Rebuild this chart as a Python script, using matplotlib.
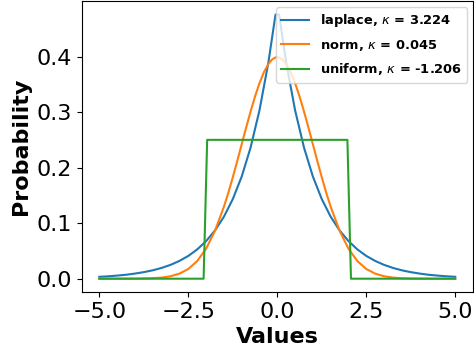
import matplotlib
matplotlib.use("Agg")
import matplotlib.pyplot as plt

# values
x_laplace = [-5.0, -4.75, -4.5, -4.25, -4.0, -3.75, -3.5, -3.25, -3.0, -2.75,
             -2.5, -2.25, -2.0, -1.75, -1.5, -1.25, -1.0, -0.75, -0.5, -0.25,
             -0.05, 0.05,
             0.25, 0.5, 0.75, 1.0, 1.25, 1.5, 1.75, 2.0, 2.25, 2.5,
             2.75, 3.0, 3.25, 3.5, 3.75, 4.0, 4.25, 4.5, 4.75, 5.0]
laplace_half = [0.0034, 0.0043, 0.0056, 0.0071, 0.0092, 0.0118, 0.0151, 0.0194,
                0.0249, 0.0320, 0.0410, 0.0527, 0.0677, 0.0869, 0.1116, 0.1433,
                0.1839, 0.2362, 0.3033, 0.3894, 0.4755]
laplace_vals = laplace_half + laplace_half[::-1]

x_norm = [-5.0, -4.5, -4.0, -3.75, -3.5, -3.25, -3.0, -2.75, -2.5, -2.25,
          -2.0, -1.75, -1.5, -1.375, -1.25, -1.125, -1.0, -0.875, -0.75, -0.625,
          -0.5, -0.375, -0.25, -0.15, -0.05,
          0.05, 0.15, 0.25, 0.375, 0.5, 0.625, 0.75, 0.875, 1.0, 1.125,
          1.25, 1.375, 1.5, 1.75, 2.0, 2.25, 2.5, 2.75, 3.0, 3.25,
          3.5, 3.75, 4.0, 4.5, 5.0]
norm_half = [0.0000, 0.0000, 0.0001, 0.0004, 0.0009, 0.0020, 0.0044, 0.0091,
             0.0175, 0.0317, 0.0540, 0.0863, 0.1295, 0.1548, 0.1826, 0.2119,
             0.2420, 0.2721, 0.3011, 0.3282, 0.3521, 0.3720, 0.3867, 0.3945,
             0.3984]
norm_vals = norm_half + norm_half[::-1]

x_uniform = [-5.0, -2.07, -1.97, 1.97, 2.07, 5.0]
uniform_vals = [0.0, 0.0, 0.25, 0.25, 0.0, 0.0]

labels = ["laplace, $\\kappa$ = 3.224", "norm, $\\kappa$ = 0.045", "uniform, $\\kappa$ = -1.206"]

fig = plt.figure(figsize=(4.74, 3.5), dpi=100)
ax = fig.add_subplot(111)
fig.subplots_adjust(left=0.172, right=0.998, top=0.996, bottom=0.166)

ax.plot(x_laplace, laplace_vals, label=labels[0])
ax.plot(x_norm, norm_vals, label=labels[1])
ax.plot(x_uniform, uniform_vals, label=labels[2])

ax.set_xlabel("Values", fontsize=16, fontweight="bold")
ax.set_ylabel("Probability", fontsize=16, fontweight="bold")
ax.tick_params(labelsize=16)
ax.set_xticks([-5.0, -2.5, 0.0, 2.5, 5.0])
ax.legend(loc="upper right", prop={"weight": "bold", "size": 9.4},
          handlelength=2.13, handletextpad=0.85, labelspacing=0.65,
          borderaxespad=0.45)

fig.savefig("out.png", dpi=100)
